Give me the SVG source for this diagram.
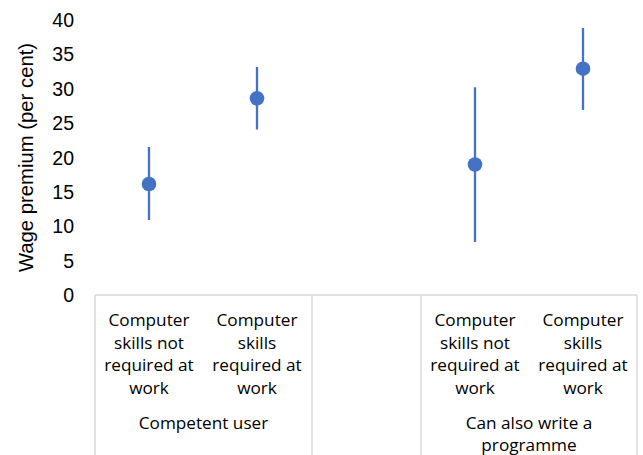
<svg xmlns="http://www.w3.org/2000/svg" width="643" height="455" viewBox="0 0 643 455">
<style>
.tick{font-family:"Liberation Sans",Arial,sans-serif;font-size:19.5px;fill:#000;text-anchor:end}
.title{font-family:"Liberation Sans",Arial,sans-serif;font-size:20.3px;fill:#000;text-anchor:middle}
.cat{font-family:"Open Sans","DejaVu Sans",sans-serif;font-size:17.2px;fill:#000;text-anchor:middle}
.grid{stroke:#d9d9d9;stroke-width:1.5;fill:none}
.bar{stroke:#4472C4;stroke-width:2.3}
.dot{fill:#4472C4}
</style>
<rect width="643" height="455" fill="#fff"/>
<g id="y-axis">
<text class="tick" x="74" y="27">40</text>
<text class="tick" x="74" y="61.4">35</text>
<text class="tick" x="74" y="95.8">30</text>
<text class="tick" x="74" y="130.1">25</text>
<text class="tick" x="74" y="164.5">20</text>
<text class="tick" x="74" y="198.9">15</text>
<text class="tick" x="74" y="233.3">10</text>
<text class="tick" x="74" y="267.6">5</text>
<text class="tick" x="74" y="302">0</text>
<text class="title" transform="translate(32.5,157.5) rotate(-90)">Wage premium (per cent)</text>
</g>
<g id="category-axis">
<path class="grid" d="M95,295H637M95,295V455M312,295V455M421,295V455M637,295V455"/>
<text class="cat" x="149"><tspan x="149" y="326">Computer</tspan><tspan x="149" y="348.5">skills not</tspan><tspan x="149" y="371">required at</tspan><tspan x="149" y="393.5">work</tspan></text>
<text class="cat" x="257"><tspan x="257" y="326">Computer</tspan><tspan x="257" y="348.5">skills</tspan><tspan x="257" y="371">required at</tspan><tspan x="257" y="393.5">work</tspan></text>
<text class="cat" x="475"><tspan x="475" y="326">Computer</tspan><tspan x="475" y="348.5">skills not</tspan><tspan x="475" y="371">required at</tspan><tspan x="475" y="393.5">work</tspan></text>
<text class="cat" x="583"><tspan x="583" y="326">Computer</tspan><tspan x="583" y="348.5">skills</tspan><tspan x="583" y="371">required at</tspan><tspan x="583" y="393.5">work</tspan></text>
<text class="cat" x="203.5" y="428.5">Competent user</text>
<text class="cat" x="529"><tspan x="529" y="428.5">Can also write a</tspan><tspan x="529" y="450.5">programme</tspan></text>
</g>
<g id="connectors">
<line class="bar" x1="149" y1="147" x2="149" y2="220"/>
<line class="bar" x1="257" y1="67" x2="257" y2="129.5"/>
<line class="bar" x1="475" y1="87.3" x2="475" y2="242"/>
<line class="bar" x1="583" y1="28" x2="583" y2="110"/>
</g>
<g id="point-1"><circle class="dot" cx="149" cy="184" r="7.3"/></g>
<g id="point-2"><circle class="dot" cx="257" cy="98.3" r="7.3"/></g>
<g id="point-3"><circle class="dot" cx="475" cy="164.5" r="7.3"/></g>
<g id="point-4"><circle class="dot" cx="583" cy="68.7" r="7.3"/></g>
</svg>
